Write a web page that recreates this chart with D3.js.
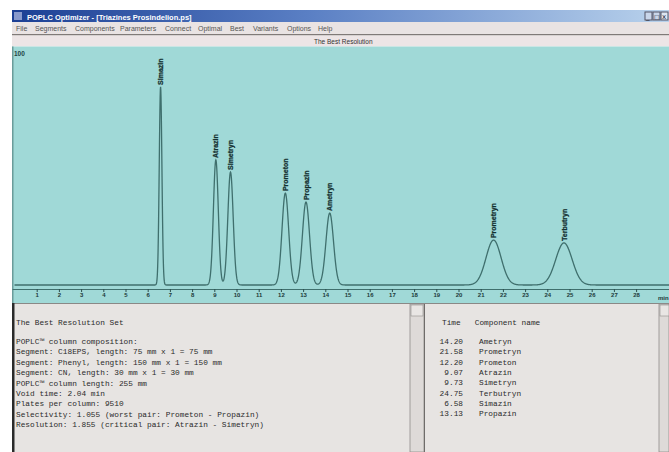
<!DOCTYPE html>
<html><head><meta charset="utf-8">
<script src="https://cdn.jsdelivr.net/npm/d3@7"></script>
<style>
html,body{margin:0;padding:0;background:#fff;overflow:hidden}
svg{display:block}
</style></head>
<body>
<svg id="c" width="669" height="452"></svg>
<script>
// ---- data ----
const compounds = ["Simazin","Atrazin","Simetryn","Prometon","Propazin","Ametryn","Prometryn","Terbutryn"];
const retention = [6.58, 9.07, 9.73, 12.20, 13.13, 14.20, 21.58, 24.75];
const heights   = [84.3, 53.2, 48.1, 39.1, 35.3, 30.6, 19.1, 17.9];
const sigmas    = [0.06, 0.11, 0.12, 0.15, 0.16, 0.17, 0.34, 0.37];
const xTicks = d3.range(1, 29);
const menuItems = ["File","Segments","Components","Parameters","Connect","Optimal","Best","Variants","Options","Help"];
const menuX = [16,35,75,120,165,198,230,253,287,318];
const infoLines = [
  "The Best Resolution Set",
  "",
  "POPLC\u2122 column composition:",
  "Segment: C18EPS, length: 75 mm x 1 = 75 mm",
  "Segment: Phenyl, length: 150 mm x 1 = 150 mm",
  "Segment: CN, length: 30 mm x 1 = 30 mm",
  "POPLC\u2122 column length: 255 mm",
  "Void time: 2.04 min",
  "Plates per column: 9510",
  "Selectivity: 1.055 (worst pair: Prometon - Propazin)",
  "Resolution: 1.855 (critical pair: Atrazin - Simetryn)"
];
const tableTimes = ["14.20","21.58","12.20","9.07","9.73","24.75","6.58","13.13"];
const tableNames = ["Ametryn","Prometryn","Prometon","Atrazin","Simetryn","Terbutryn","Simazin","Propazin"];

const svg = d3.select("#c");
const W = 669, H = 452;

// ---- window chrome ----
const defs = svg.append("defs");
const g1 = defs.append("linearGradient").attr("id","tb").attr("x1","0").attr("x2","1");
g1.append("stop").attr("offset","0").attr("stop-color","#1c3f94");
g1.append("stop").attr("offset","0.45").attr("stop-color","#5a7fc4");
g1.append("stop").attr("offset","1").attr("stop-color","#b9d2ec");
svg.append("rect").attr("x",12).attr("y",10).attr("width",W-12).attr("height",12).attr("fill","url(#tb)");
svg.append("rect").attr("x",14).attr("y",12).attr("width",8).attr("height",8).attr("fill","#8899cc");
svg.append("text").attr("x",27).attr("y",19.5).attr("fill","#fff").attr("font-family","Liberation Sans, Arial, sans-serif")
  .attr("font-size",7.5).attr("font-weight","bold").text("POPLC Optimizer - [Triazines Prosindelion.ps]");
[645,653,661].forEach((bx,i)=>{
  svg.append("rect").attr("x",bx).attr("y",12).attr("width",7).attr("height",8).attr("fill", i==2?"#dde6f2":"#c9d6ea").attr("stroke","#556","stroke-width",0.4);
});
svg.append("text").attr("x",646).attr("y",19).attr("font-size",7).attr("font-family","DejaVu Sans").attr("fill","#223").text("_");
svg.append("text").attr("x",654).attr("y",19).attr("font-size",6).attr("font-family","DejaVu Sans").attr("fill","#223").text("\u25a1");
svg.append("text").attr("x",662).attr("y",19).attr("font-size",7).attr("font-family","DejaVu Sans").attr("fill","#223").text("x");

// menu bar
svg.append("rect").attr("x",12).attr("y",22).attr("width",W-12).attr("height",12).attr("fill","#e9e3e3");
svg.selectAll("text.menu").data(menuItems).join("text").attr("class","menu")
  .attr("x",(d,i)=>menuX[i]).attr("y",31).attr("font-family","Liberation Sans, Arial, sans-serif")
  .attr("font-size",7).attr("fill","#555").text(d=>d);
svg.append("rect").attr("x",12).attr("y",34).attr("width",W-12).attr("height",1.5).attr("fill","#807a78");
svg.append("rect").attr("x",12).attr("y",35.5).attr("width",W-12).attr("height",11).attr("fill","#ede5e6");
svg.append("text").attr("x",314).attr("y",43.5).attr("font-family","Liberation Sans, Arial, sans-serif")
  .attr("font-size",6.5).attr("fill","#333").text("The Best Resolution");

// ---- plot area ----
svg.append("rect").attr("x",12).attr("y",46.5).attr("width",W-12).attr("height",258).attr("fill","#a0d9d7");
svg.append("rect").attr("x",12).attr("y",46.5).attr("width",1.5).attr("height",258).attr("fill","#6a9c9a");

const x = d3.scaleLinear().domain([0,28]).range([14.5,636.1]);
const y = d3.scaleLinear().domain([0,100]).range([285,50]);

svg.append("text").attr("x",14).attr("y",56).attr("font-family","Liberation Sans, Arial, sans-serif")
  .attr("font-size",6.5).attr("font-weight","bold").attr("fill","#244").text("100");

const times = d3.range(0, 29.5, 0.01);
const trace = times.map(t => {
  let v = 0;
  for (let i=0;i<retention.length;i++){
    const z = (t-retention[i])/sigmas[i];
    v += heights[i]*Math.exp(-0.5*z*z);
  }
  return [t, v];
});
svg.append("path").datum(trace)
  .attr("d", d3.line().x(d=>x(d[0])).y(d=>y(d[1])))
  .attr("fill","none").attr("stroke","#3f6f6d").attr("stroke-width",1.3);

svg.selectAll("text.pk").data(compounds).join("text").attr("class","pk")
  .attr("transform",(d,i)=>`translate(${x(retention[i])+2.6},${y(heights[i])-2}) rotate(-90)`)
  .attr("font-family","Liberation Sans, Arial, sans-serif").attr("font-size",7).attr("font-weight","bold")
  .attr("fill","#143030").attr("stroke","#143030").attr("stroke-width",0.25).text(d=>d);

const axis = d3.axisBottom(x).tickValues(xTicks).tickSize(3).tickFormat(d3.format("d"));
const ax = svg.append("g").attr("transform","translate(0,289)").call(axis);
ax.select(".domain").attr("stroke","#3f6f6d").attr("stroke-width",1).attr("d",`M12.5,0.5H${W}`);
ax.selectAll(".tick line").attr("stroke","#2d4f4f");
ax.selectAll(".tick text").attr("font-family","Liberation Sans, Arial, sans-serif").attr("font-size",6)
  .attr("font-weight","bold").attr("fill","#1d3a3a").attr("dy","0.4em");
svg.append("text").attr("x",658).attr("y",300).attr("font-family","Liberation Sans, Arial, sans-serif")
  .attr("font-size",6).attr("font-weight","bold").attr("fill","#1d3a3a").text("min");

// ---- bottom panels ----
svg.append("rect").attr("x",12).attr("y",304).attr("width",W-12).attr("height",H-304).attr("fill","#e7e4e2");
svg.append("rect").attr("x",12).attr("y",303).attr("width",W-12).attr("height",1).attr("fill","#8a8886");
svg.append("rect").attr("x",12).attr("y",303).attr("width",2.5).attr("height",H-303).attr("fill","#2a2a2a");
svg.append("rect").attr("x",410).attr("y",304).attr("width",14).attr("height",H-304).attr("fill","#dedad8").attr("stroke","#8f8c8a").attr("stroke-width",0.8);
svg.append("rect").attr("x",411).attr("y",305).attr("width",12).attr("height",11).attr("fill","#e9e6e4").attr("stroke","#8f8c8a").attr("stroke-width",0.6);
svg.append("line").attr("x1",424.5).attr("x2",424.5).attr("y1",304).attr("y2",H).attr("stroke","#6f6c6a");
svg.append("rect").attr("x",659).attr("y",304).attr("width",10).attr("height",H-304).attr("fill","#dedad8").attr("stroke","#8f8c8a").attr("stroke-width",0.8);
svg.append("rect").attr("x",660).attr("y",305).attr("width",9).attr("height",11).attr("fill","#e9e6e4").attr("stroke","#8f8c8a").attr("stroke-width",0.6);

const mono = "Liberation Mono, DejaVu Sans Mono, monospace";
svg.selectAll("text.info").data(infoLines).join("text").attr("class","info")
  .attr("x",16).attr("y",(d,i)=> i<2 ? 325 : 344 + (i-2)*10.4)
  .attr("font-family",mono).attr("font-size",7.8).attr("fill","#2b2b2b").text(d=>d);

svg.append("text").attr("x",442).attr("y",325).attr("font-family",mono).attr("font-size",7.8).attr("fill","#2b2b2b")
  .attr("xml:space","preserve").text("Time   Component name");
svg.selectAll("text.tt").data(tableTimes).join("text").attr("class","tt")
  .attr("x",463).attr("y",(d,i)=>344+i*10.3).attr("text-anchor","end")
  .attr("font-family",mono).attr("font-size",7.8).attr("fill","#2b2b2b").text(d=>d);
svg.selectAll("text.tn").data(tableNames).join("text").attr("class","tn")
  .attr("x",479).attr("y",(d,i)=>344+i*10.3)
  .attr("font-family",mono).attr("font-size",7.8).attr("fill","#2b2b2b").text(d=>d);
</script>
</body></html>
